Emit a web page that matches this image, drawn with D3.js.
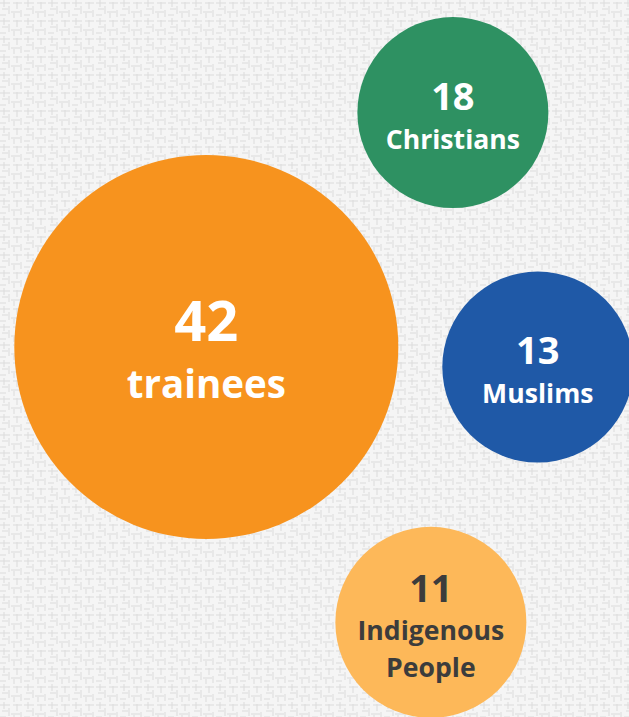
<!DOCTYPE html>
<html>
<head>
<meta charset="utf-8">
<script src="https://cdn.jsdelivr.net/npm/d3@7"></script>
<style>
  html, body { margin: 0; padding: 0; background: #f2f2f2; }
  svg { display: block; }
</style>
</head>
<body>
<div id="chart"></div>
<script>
// data
var counts = [42, 18, 13, 11]
var labels = [['trainees'], ['Christians'], ['Muslims'], ['Indigenous', 'People']]
var groups = ['total', 'christians', 'muslims', 'indigenous']

// layout (in 0..100 units) and style, kept apart from the data
var layoutX = { total: 32.8, christians: 72.0, muslims: 85.5, indigenous: 68.5 }
var layoutY = { total: 48.4, christians: 15.7, muslims: 51.2, indigenous: 86.8 }
var fills = { total: '#f7931e', christians: '#2e9162', muslims: '#1f59a7', indigenous: '#fdb859' }
var inks = { total: '#ffffff', christians: '#ffffff', muslims: '#ffffff', indigenous: '#3c3c3c' }
var font = '"Open Sans", Lato, sans-serif'

var width = 629, height = 717

var svg = d3.select('#chart')
  .append('svg')
  .attr('width', width)
  .attr('height', height)

// linen-ish background texture
var defs = svg.append('defs')
var pat = defs.append('pattern')
  .attr('id', 'linen')
  .attr('width', 24)
  .attr('height', 18)
  .attr('patternUnits', 'userSpaceOnUse')
pat.append('rect').attr('width', 24).attr('height', 18).attr('fill', '#f5f5f5')
var strokes = [[0, 3, 10, 3], [13, 3, 22, 3], [2, 9, 8, 9], [11, 12, 20, 12], [0, 15, 6, 15],
               [4, 0, 4, 7], [9, 6, 9, 14], [17, 2, 17, 9], [21, 10, 21, 17], [14, 13, 14, 18]]
pat.selectAll('line')
  .data(strokes)
  .enter()
  .append('line')
  .attr('x1', function (d) { return d[0] })
  .attr('y1', function (d) { return d[1] })
  .attr('x2', function (d) { return d[2] })
  .attr('y2', function (d) { return d[3] })
  .attr('stroke', '#dcdcdc')
  .attr('stroke-width', 1)
svg.append('rect').attr('width', width).attr('height', height).attr('fill', 'url(#linen)')

var x = d3.scaleLinear().domain([0, 100]).range([0, width])
var y = d3.scaleLinear().domain([0, 100]).range([0, height])

// the total gets the big bubble, the groups share one size
var r = d3.scaleThreshold().domain([20]).range([95.5, 192])

var rows = groups.map(function (g, i) {
  return { key: g, count: counts[i], lines: labels[i] }
})

var bubble = svg.selectAll('g.bubble')
  .data(rows)
  .enter()
  .append('g')
  .attr('class', 'bubble')
  .attr('transform', function (d) { return 'translate(' + x(layoutX[d.key]) + ',' + y(layoutY[d.key]) + ')' })

bubble.append('circle')
  .attr('r', function (d) { return r(d.count) })
  .attr('fill', function (d) { return fills[d.key] })

var big = function (d) { return d.count >= 20 }

bubble.append('text')
  .attr('text-anchor', 'middle')
  .attr('y', function (d) { return big(d) ? -6 : (d.lines.length > 1 ? -20 : -3) })
  .style('font-family', font)
  .style('font-weight', 'bold')
  .style('font-size', function (d) { return big(d) ? '56px' : '38px' })
  .attr('fill', function (d) { return inks[d.key] })
  .text(function (d) { return d.count })

bubble.each(function (d) {
  var g = d3.select(this)
  var y0 = big(d) ? 51 : (d.lines.length > 1 ? 18 : 36)
  var step = 37
  d.lines.forEach(function (line, i) {
    g.append('text')
      .attr('text-anchor', 'middle')
      .attr('y', y0 + i * step)
      .style('font-family', font)
      .style('font-weight', 'bold')
      .style('font-size', big(d) ? '38.5px' : '26.6px')
      .attr('fill', inks[d.key])
      .text(line)
  })
})
</script>
</body>
</html>
